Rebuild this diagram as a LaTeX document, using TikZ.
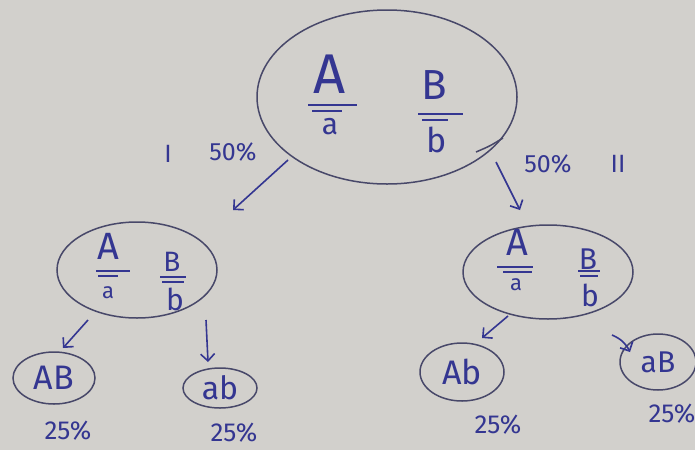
\documentclass[tikz,border=0pt]{standalone}
\usepackage{fontspec}
\setmainfont{Fira Sans}
\usetikzlibrary{arrows.meta,shapes.geometric}
\definecolor{paper}{RGB}{210,208,204}
\definecolor{ink}{RGB}{52,54,145}
\definecolor{pencil}{RGB}{72,72,105}
\newcommand\fsz[1]{\fontsize{#1}{#1}\selectfont}
\tikzset{
  ring/.style={draw=pencil, line width=1.5pt, ellipse, inner sep=0pt},
  tail/.style={draw=pencil, line width=1.5pt},
  lbl/.style={text=ink, inner sep=0pt, font=\fsz{#1}},
  lbl/.default=24,
  arr/.style={draw=ink, line width=1.6pt, -{Straight Barb[length=7pt,width=14pt]}},
  bar/.style={draw=ink, line width=1.5pt},
}
\begin{document}
\begin{tikzpicture}[x=1pt,y=-1pt]
\fill[paper] (0,0) rectangle (695,450);
\useasboundingbox (0,0) rectangle (695,450);

% top ellipse
\node[ring, minimum width=260pt, minimum height=174pt] (top) at (387,97) {};
\draw[tail] (476,152) .. controls (490,146) .. (503,138);
\node[lbl=56] (tA) at (330,74) {A};
\draw[bar] (308,105) -- (357,105);
\draw[bar] (312,111) -- (342,111);
\node[lbl=30] (ta) at (330,127) {a};
\node[lbl=42] (tB) at (434,85) {B};
\draw[bar] (418,114) -- (463,114);
\draw[bar] (422,120) -- (448,120);
\node[lbl=34] (tb) at (437,140) {b};

% labels on branches
\node[lbl=25] (I) at (168,154) {I};
\node[lbl=25] (p1) at (233,152) {50\%};
\node[lbl=25] (p2) at (548,164) {50\%};
\node[lbl=25] (II) at (618,164) {II};

% middle ellipses
\node[ring, minimum width=160pt, minimum height=96pt] (L) at (137,270) {};
\node[lbl=38] (LA) at (108,246) {A};
\draw[bar] (96,271) -- (130,271);
\draw[bar] (98,276) -- (118,276);
\node[lbl=22] (La) at (108,293) {a};
\node[lbl=28] (LB) at (172,262) {B};
\draw[bar] (160,277) -- (186,277);
\draw[bar] (162,282) -- (184,282);
\node[lbl=30] (Lb) at (175,299) {b};

\node[ring, minimum width=170pt, minimum height=94pt] (R) at (548,272) {};
\node[lbl=38] (RA) at (517,242) {A};
\draw[bar] (497,267) -- (533,267);
\draw[bar] (503,272) -- (532,272);
\node[lbl=22] (Ra) at (516,285) {a};
\node[lbl=30] (RB) at (588,259) {B};
\draw[bar] (578,271) -- (600,271);
\draw[bar] (580,276) -- (598,276);
\node[lbl=30] (Rb) at (590,295) {b};

% bottom ellipses
\node[ring, minimum width=82pt, minimum height=52pt] (AB) at (54,378) {};
\node[lbl=34] at (AB) {AB};
\node[ring, minimum width=74pt, minimum height=40pt] (ab) at (220,388) {};
\node[lbl=32] at (ab) {ab};
\node[ring, minimum width=84pt, minimum height=58pt] (Ab) at (462,372) {};
\node[lbl=34] at (Ab) {Ab};
\node[ring, minimum width=76pt, minimum height=56pt] (aB) at (658,362) {};
\node[lbl=30] at (aB) {aB};

% percentages
\node[lbl=26] (q1) at (68,431) {25\%};
\node[lbl=26] (q2) at (234,433) {25\%};
\node[lbl=26] (q3) at (498,425) {25\%};
\node[lbl=26] (q4) at (672,414) {25\%};

% connectors
\coordinate (s1) at (288,160);
\coordinate (e1) at (233,210);
\coordinate (s2) at (496,162);
\coordinate (e2) at (520,210);
\coordinate (s3) at (88,320);
\coordinate (e3) at (63,348);
\coordinate (s4) at (206,320);
\coordinate (e4) at (208,362);
\coordinate (s5) at (508,316);
\coordinate (e5) at (482,338);
\coordinate (s6) at (612,335);
\coordinate (e6) at (630,352);
\draw[arr] (s1) -- (e1);
\draw[arr] (s2) -- (e2);
\draw[arr] (s3) -- (e3);
\draw[arr] (s4) -- (e4);
\draw[arr] (s5) -- (e5);
\draw[arr] (s6) to[bend left=20] (e6);
\end{tikzpicture}
\end{document}
